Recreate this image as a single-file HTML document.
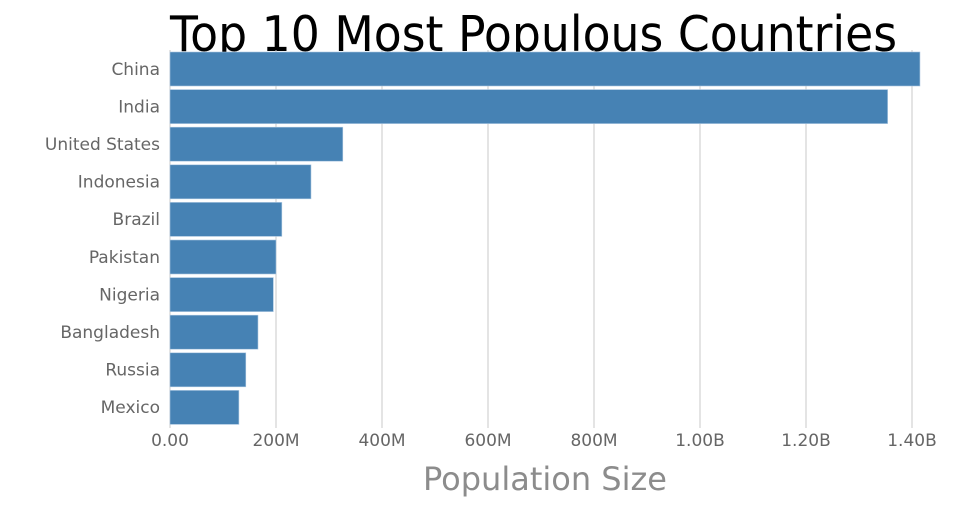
<!DOCTYPE html>
<html><head><meta charset="utf-8"><style>
html,body{margin:0;padding:0;background:#fff}
svg text{font-family:"DejaVu Sans","Liberation Sans",sans-serif}
</style></head><body>
<svg id="chart" width="960" height="500" viewBox="0 0 960 500" xmlns="http://www.w3.org/2000/svg">
<text x="170" y="51" font-size="49" fill="#000" textLength="727" lengthAdjust="spacingAndGlyphs">Top 10 Most Populous Countries</text>
<g id="grid"></g><g id="bars"></g><g id="ylabels"></g><g id="xlabels"></g>
<text x="545" y="490" font-size="32" fill="#8c8c8c" text-anchor="middle">Population Size</text>
</svg>
<script>
const countries = ["China","India","United States","Indonesia","Brazil","Pakistan","Nigeria","Bangladesh","Russia","Mexico"];
const populations = [1415, 1354, 326, 266, 211, 200, 195, 166, 143, 130];
const tickValues = [0, 200, 400, 600, 800, 1000, 1200, 1400];
const tickLabels = ["0.00","200M","400M","600M","800M","1.00B","1.20B","1.40B"];
const NS="http://www.w3.org/2000/svg";
const x0=170, pxPerM=0.53, yTop=50, yBot=426;
const band=(yBot-yTop)/countries.length;
function xs(v){return x0+v*pxPerM;}
function yb(i){return yTop+i*band;}
function mk(tag,attrs,parent){const e=document.createElementNS(NS,tag);for(const k in attrs)e.setAttribute(k,attrs[k]);parent.appendChild(e);return e;}
const grid=document.getElementById('grid'),bars=document.getElementById('bars'),yl=document.getElementById('ylabels'),xl=document.getElementById('xlabels');
tickValues.forEach((v,i)=>{
  const l=mk('line',{x1:xs(v),x2:xs(v),y1:yTop,y2:yBot+2,stroke:'#c8c8c8','stroke-width':1},grid);
  
  
  const t=mk('text',{x:xs(v),y:446,'font-size':17,fill:'#666','text-anchor':'middle'},xl);
  t.textContent=tickLabels[i];
  
  
});
countries.forEach((c,i)=>{
  const r=mk('rect',{x:x0,y:yb(i)+2,width:xs(populations[i])-x0,height:band-3.6,fill:'#4682b4',stroke:'#a9c6e0','stroke-width':0.6},bars);
  
  
  const t=mk('text',{x:160,y:yb(i)+band/2+6,'font-size':17,fill:'#666','text-anchor':'end'},yl);
  t.textContent=c;
  
  
});
</script>
</body></html>
